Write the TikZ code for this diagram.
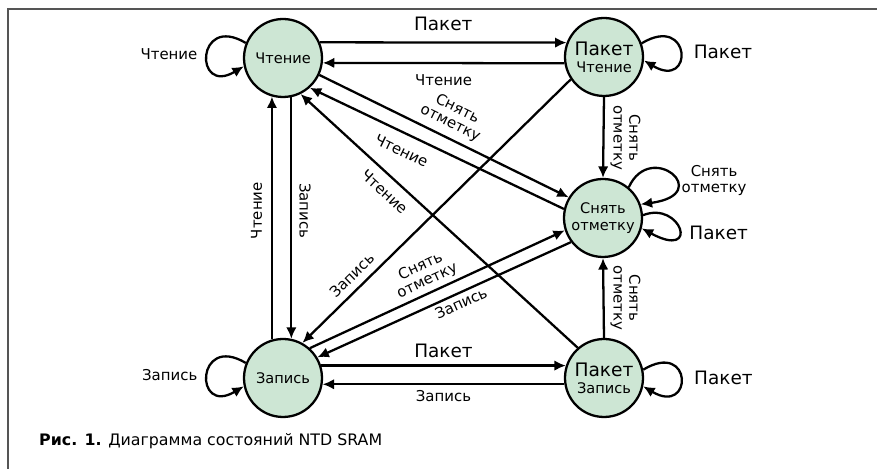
\documentclass[tikz,border=0pt]{standalone}
\usepackage{fontspec}
\setmainfont{DejaVu Sans}
\usetikzlibrary{arrows.meta}

\definecolor{stategreen}{HTML}{CDE6D4}
\definecolor{framegray}{HTML}{555555}

\tikzset{
  state/.style={circle, draw, line width=1.3pt, fill=stategreen, minimum size=1.56cm,
    inner sep=0pt, align=center, font=\fontsize{8.3}{9.5}\selectfont},
  trans/.style={line width=1.3pt, -{Latex[length=6.5pt,width=6pt]}},
  lbl/.style={font=\fontsize{8.5}{9}\selectfont, align=center, inner sep=2pt},
  biglbl/.style={font=\fontsize{10.5}{12}\selectfont, inner sep=2pt},
  downlbl/.style={lbl, rotate=-90, anchor=south, outer sep=2pt},
}

\begin{document}
\begin{tikzpicture}[x=0.02cm, y=-0.02cm]
    \useasboundingbox (0,0) rectangle (877,469);
    % Frame
    \draw[framegray, line width=0.75pt] (8,469) -- (8,9) -- (877,9);

    % Define the positions of the states
    \coordinate (readPos) at (283,58);
    \coordinate (pktReadPos) at (604,57);
    \coordinate (clrPos) at (603,218);
    \coordinate (writePos) at (283,378);
    \coordinate (pktWritePos) at (604,378);

    % Draw the states
    \node[state] (read) at (readPos) {Чтение};
    \node[state] (pktRead) at (pktReadPos) {{\fontsize{10.6}{12}\selectfont Пакет}\\Чтение};
    \node[state] (clr) at (clrPos) {Снять\\отметку};
    \node[state] (write) at (writePos) {Запись};
    \node[state] (pktWrite) at (pktWritePos) {{\fontsize{10.6}{12}\selectfont Пакет}\\Запись};

    % Draw the transitions
    \draw[trans] (read.23) -- (pktRead.159) node[biglbl, midway, above=4pt] {Пакет};
    \draw[trans] (pktRead.189) -- (read.-7) node[lbl, midway, below=4pt] {Чтение};
    \draw[trans] (write.106) -- (read.254) node[lbl, pos=0.53, sloped, above=3pt] {Чтение};
    \draw[trans] (read.282) -- (write.78) node[lbl, pos=0.47, sloped, above=2pt] {Запись};
    \draw[trans] (read.-25) -- (clr.149) node[lbl, midway, sloped, above=1.5pt] {Снять\\отметку};
    \draw[trans] (clr.167) -- (read.-48) node[lbl, pos=0.61, sloped, below=4pt] {Чтение};
    \draw[trans] (pktWrite.131) -- (read.-64) node[lbl, pos=0.66, sloped, below=3pt] {Чтение};
    \draw[trans] (pktRead.214) -- (write.61) node[lbl, pos=0.78, sloped, above=2pt] {Запись};
    \draw[trans] (pktRead.south) -- (clr.north) node[downlbl, midway] {Снять\\отметку};
    \draw[trans] (pktWrite.north) -- (clr.south) node[downlbl, midway] {Снять\\отметку};
    \draw[trans] (write.48) -- (clr.198) node[lbl, pos=0.48, sloped, above] {Снять\\отметку};
    \draw[trans] (clr.217) -- (write.31) node[lbl, pos=0.45, sloped, below] {Запись};
    \draw[trans] (write.18) -- (pktWrite.162) node[biglbl, midway, above=2pt] {Пакет};
    \draw[trans] (pktWrite.189) -- (write.-9) node[lbl, midway, below=1pt] {Запись};

    % Draw the self loops
    \draw[trans] (read.158) .. controls +(-50,-30) and +(-50,30) .. (read.192) node[lbl, midway, left=3pt] {Чтение};
    \draw[trans] (write.158) .. controls +(-50,-30) and +(-50,30) .. (write.192) node[lbl, midway, left=3pt] {Запись};
    \draw[trans] (pktRead.20) .. controls +(50,-30) and +(50,30) .. (pktRead.-5) node[biglbl, midway, right=5pt] {Пакет};
    \draw[trans] (pktWrite.12) .. controls +(50,-30) and +(50,30) .. (pktWrite.-12) node[biglbl, midway, right=5pt] {Пакет};
    \draw[trans] (clr.50) .. controls +(22,-48) and +(75,-10) .. (clr.20) node[lbl, pos=0.6, right=1pt] {Снять\\отметку};
    \draw[trans] (clr.4) .. controls +(38,-15) and +(59,32) .. (clr.-15) node[biglbl, pos=0.6, right=3.5pt] {Пакет};

    % Caption
    \node[anchor=base west, font=\fontsize{9}{10}\selectfont] (caption) at (33,446) {\textbf{Рис. 1.} Диаграмма состояний NTD SRAM};
\end{tikzpicture}
\end{document}
